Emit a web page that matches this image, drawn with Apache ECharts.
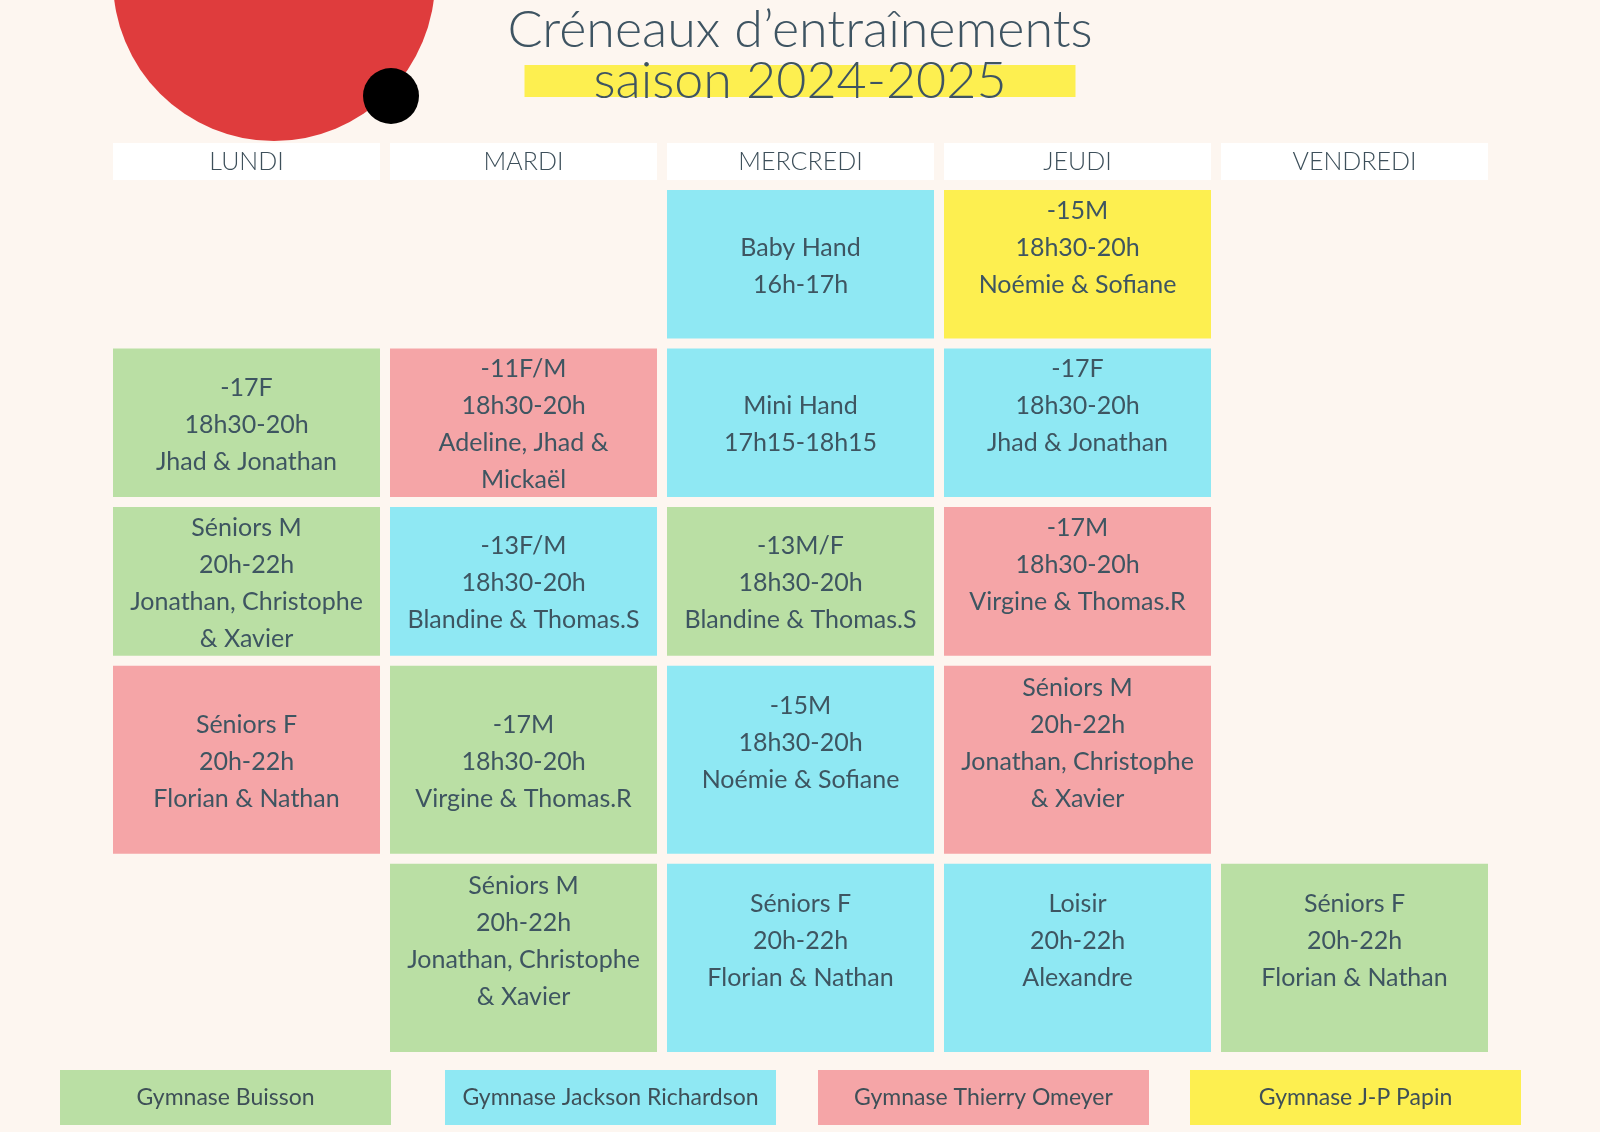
<!DOCTYPE html>
<html><head><meta charset="utf-8">
<script src="https://cdn.jsdelivr.net/npm/echarts@6/dist/echarts.min.js"></script>
<style>html,body{margin:0;padding:0;background:#fdf6f0}#c{width:1600px;height:1132px}</style>
</head><body><div id="c"></div>
<script>
// ---------- data ----------
const days = ['LUNDI', 'MARDI', 'MERCREDI', 'JEUDI', 'VENDREDI'];
const gyms = ['Gymnase Buisson', 'Gymnase Jackson Richardson', 'Gymnase Thierry Omeyer', 'Gymnase J-P Papin'];
// extent of each time slot row on the (hidden) vertical slot axis
const slotStart = [0, 4, 8, 12, 17];
const slotEnd   = [4, 8, 12, 17, 22];
// sessions
const sessionDay  = [0, 0, 0, 1, 1, 1, 1, 2, 2, 2, 2, 2, 3, 3, 3, 3, 3, 4];
const sessionSlot = [1, 2, 3, 1, 2, 3, 4, 0, 1, 2, 3, 4, 0, 1, 2, 3, 4, 4];
const sessionGym  = [0, 0, 2, 2, 1, 0, 0, 1, 1, 0, 1, 1, 3, 1, 2, 2, 1, 0];
const sessionText = [
  '-17F\n18h30-20h\nJhad & Jonathan',
  'Séniors M\n20h-22h\nJonathan, Christophe\n& Xavier',
  'Séniors F\n20h-22h\nFlorian & Nathan',
  '-11F/M\n18h30-20h\nAdeline, Jhad &\nMickaël',
  '-13F/M\n18h30-20h\nBlandine & Thomas.S',
  '-17M\n18h30-20h\nVirgine & Thomas.R',
  'Séniors M\n20h-22h\nJonathan, Christophe\n& Xavier\n',
  'Baby Hand\n16h-17h',
  'Mini Hand\n17h15-18h15',
  '-13M/F\n18h30-20h\nBlandine & Thomas.S',
  '-15M\n18h30-20h\nNoémie & Sofiane\n',
  'Séniors F\n20h-22h\nFlorian & Nathan\n',
  '-15M\n18h30-20h\nNoémie & Sofiane\n',
  '-17F\n18h30-20h\nJhad & Jonathan\n',
  '-17M\n18h30-20h\nVirgine & Thomas.R\n',
  'Séniors M\n20h-22h\nJonathan, Christophe\n& Xavier\n',
  'Loisir\n20h-22h\nAlexandre\n',
  'Séniors F\n20h-22h\nFlorian & Nathan\n'
];

// ---------- styles ----------
const gymColors = ['#badfa4', '#8fe8f3', '#f5a5a7', '#fdef50'];
const textColor = '#3e5561';
const FONT = 'Lato';
const GAP = 10;
const legendLeft = [60, 445, 818, 1190];

const seriesItems = gyms.map((g, gi) => {
  const items = [];
  sessionGym.forEach((sg, i) => {
    if (sg === gi) items.push({ day: sessionDay[i], y0: slotStart[sessionSlot[i]], y1: slotEnd[sessionSlot[i]], text: sessionText[i] });
  });
  return items;
});

const chart = echarts.init(document.getElementById('c'), null, { renderer: 'canvas' });

const option = {
  backgroundColor: '#fdf6f0',
  animation: false,
  title: {
    text: 'Créneaux d’entraînements',
    subtext: '{h|saison 2024-2025}',
    left: 'center',
    top: -1,
    itemGap: 9,
    textStyle: { fontFamily: FONT, fontSize: 52, fontWeight: 300, color: '#3e5462' },
    subtextStyle: {
      rich: {
        h: { fontFamily: FONT, fontSize: 52, fontWeight: 300, color: '#3e5462', backgroundColor: '#fdef50',
             width: 551, height: 32, lineHeight: 32, align: 'center' }
      }
    }
  },
  graphic: [
    { type: 'circle', z: 0, shape: { cx: 274, cy: -20, r: 161 }, style: { fill: '#df3c3d' } },
    { type: 'circle', z: 1, shape: { cx: 391, cy: 96, r: 28 }, style: { fill: '#000000' } }
  ],
  grid: { left: 108, top: 190, width: 1385, height: 872, containLabel: false, outerBoundsMode: 'none' },
  xAxis: {
    type: 'category',
    data: days,
    position: 'top',
    axisLine: { show: false },
    axisTick: { show: false },
    splitLine: { show: false },
    axisLabel: {
      interval: 0,
      margin: 10,
      formatter: '{d|{value}}',
      rich: {
        d: { width: 267, height: 37, lineHeight: 37, backgroundColor: '#ffffff', align: 'center',
             fontFamily: FONT, fontSize: 25, fontWeight: 300, color: '#3d4f5a' }
      }
    }
  },
  yAxis: { type: 'value', inverse: true, min: 0, max: 22, show: false },
  legend: gyms.map((g, i) => ({
    data: [g],
    left: legendLeft[i] - 5,
    top: 1070,
    padding: 0,
    itemWidth: 0,
    itemHeight: 0,
    selectedMode: false,
    formatter: '{b|{name}}',
    textStyle: {
      rich: {
        b: { width: 331, height: 55, lineHeight: 58, align: 'center', backgroundColor: gymColors[i],
             fontFamily: FONT, fontSize: 23, fontWeight: 400, color: '#3e4f57' }
      }
    }
  })),
  series: gyms.map((g, gi) => ({
    type: 'custom',
    name: g,
    itemStyle: { color: gymColors[gi] },
    data: seriesItems[gi].map(it => [it.day, it.y0, it.y1]),
    renderItem: function (params, api) {
      const item = seriesItems[gi][params.dataIndex];
      const band = api.size([1, 0])[0];
      const w = band - GAP;
      const a = api.coord([api.value(0), api.value(1)]);
      const b = api.coord([api.value(0), api.value(2)]);
      return {
        type: 'rect',
        shape: { x: a[0] - w / 2, y: a[1], width: w, height: b[1] - a[1] - GAP },
        style: { fill: gymColors[gi] },
        textContent: {
          style: { text: item.text, fill: textColor, fontFamily: FONT, fontSize: 25, fontWeight: 400,
                   lineHeight: 37, align: 'center', verticalAlign: 'middle' }
        },
        textConfig: { position: 'inside', offset: [0, 2] }
      };
    }
  }))
};
chart.setOption(option);
</script>
</body></html>
